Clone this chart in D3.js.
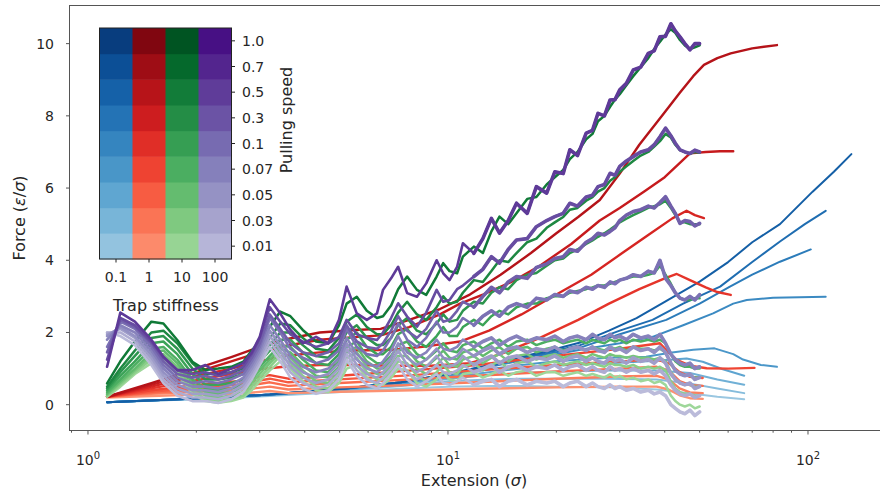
<!DOCTYPE html>
<html><head><meta charset="utf-8">
<script src="https://cdn.jsdelivr.net/npm/d3@7"></script>
<style>body{margin:0;background:#fff;} svg{display:block;font-family:"DejaVu Sans",sans-serif;}</style>
</head><body><svg id="c" width="880" height="493"></svg>
<script>
// ---------- data ----------
const speeds = ["0.01","0.03","0.05","0.07","0.1","0.3","0.5","0.7","1.0"];
const stiffness = ["0.1","1","10","100"];
const yTicks = [0,2,4,6,8,10];
const xMajor = [1,10,100];
const xMinor = [0.9,2,3,4,5,6,7,8,9,20,30,40,50,60,70,80,90];

// extension grid for the oscillating (stiff trap) runs
const xOsc = [1.13,1.23,1.35,1.5,1.62,1.77,1.95,2.12,2.3,2.5,
 2.7,2.85,3.0,3.2,3.42,3.65,3.95,4.3,4.65,4.98,
 5.23,5.58,5.95,6.35,6.6,6.95,7.27,7.7,8.2,8.7,
 9.3,9.7,10.1,10.6,11.0,11.8,12.5,13.2,13.9,14.7,
 15.5,16.6,17.6,18.8,19.8,20.9,21.8,22.9,24.2,25.2,
 26.1,27.2,28.2,29.1,30,31.3,32.7,34.3,36,37.4,
 38.8,40.2,41.6,42.8,44.1,45.5,47,48.5,50];

// stiffness 0.1 (blue), [extension, force], speeds ascending
const blue = [
 [[1.13,0.07],[2,0.15],[3.2,0.24],[5.2,0.36],[7.4,0.44],[10,0.5],[13,0.52],[16,0.52],[20,0.5],[28,0.48],[38,0.42],[48,0.3],[56,0.22],[66.5,0.15]],
 [[1.13,0.07],[2,0.16],[3.2,0.26],[5.2,0.4],[7.4,0.52],[10,0.65],[13,0.7],[16,0.72],[20,0.72],[28,0.72],[38,0.7],[48,0.57],[56,0.45],[66.5,0.32]],
 [[1.13,0.07],[2,0.17],[3.2,0.27],[5.2,0.42],[7.4,0.56],[10,0.72],[13,0.82],[16,0.88],[20,0.92],[28,0.95],[38,0.95],[47,0.88],[56,0.7],[66.5,0.55]],
 [[1.13,0.07],[2,0.17],[3.2,0.27],[5.2,0.43],[7.4,0.58],[10,0.76],[13,0.9],[16,1.0],[20,1.08],[28,1.15],[38,1.22],[46,1.28],[51,1.19],[58,0.98],[66.5,0.8]],
 [[1.13,0.07],[2,0.17],[3.2,0.28],[5.2,0.44],[7.4,0.6],[10,0.8],[13,0.98],[16,1.1],[20,1.2],[28,1.3],[35.5,1.33],[41.4,1.44],[48,1.52],[55,1.56],[62,1.4],[66,1.25],[74,1.1],[82,1.05]],
 [[1.13,0.07],[2,0.17],[3.2,0.28],[5.2,0.45],[7.4,0.62],[10,0.83],[13,1.04],[16,1.23],[20,1.4],[23.3,1.52],[30,1.7],[37,1.88],[45,2.2],[54.5,2.53],[62,2.8],[67.6,2.9],[80,2.96],[112,2.99]],
 [[1.13,0.07],[2,0.17],[3.2,0.28],[5.2,0.45],[7.4,0.62],[10,0.84],[13,1.06],[16,1.27],[20,1.45],[23.3,1.58],[30,1.95],[40.4,2.35],[50,2.8],[60.7,3.27],[70,3.6],[83.6,3.96],[101.8,4.3]],
 [[1.13,0.07],[2,0.17],[3.2,0.28],[5.2,0.45],[7.4,0.62],[10,0.85],[13,1.08],[16,1.3],[20,1.5],[23.3,1.65],[30,2.05],[37,2.35],[45,2.8],[57,3.27],[70,3.95],[83.6,4.52],[98,5.0],[112,5.37]],
 [[1.13,0.07],[2,0.17],[3.2,0.28],[5.2,0.45],[7.4,0.62],[10,0.85],[13,1.1],[16,1.33],[20,1.55],[23.3,1.72],[28,2.05],[33.4,2.4],[40,2.85],[50,3.41],[60,3.95],[70,4.5],[83.6,5.0],[103,5.9],[118,6.45],[132,6.94]]
];

// stiffness 1 (red), [extension, force], speeds ascending
const red = [
 [[1.13,0.2],[1.5,0.24],[2,0.28],[2.6,0.3],[3.2,0.38],[3.6,0.32],[5,0.36],[8,0.4],[12,0.44],[20,0.48],[30,0.5],[38,0.5],[41,0.42],[44,0.26],[47,0.18],[51,0.16]],
 [[1.13,0.22],[1.5,0.3],[2,0.36],[2.6,0.4],[3.2,0.5],[3.6,0.42],[5,0.48],[8,0.55],[12,0.62],[20,0.72],[30,0.78],[38,0.8],[41,0.7],[44,0.45],[47,0.34],[51,0.32]],
 [[1.13,0.22],[1.5,0.33],[2,0.42],[2.6,0.48],[3.2,0.62],[3.6,0.52],[5,0.6],[8,0.7],[12,0.8],[20,0.92],[30,1.0],[38,1.05],[41,0.95],[44,0.65],[47,0.54],[51,0.52]],
 [[1.13,0.22],[1.5,0.36],[2,0.48],[2.6,0.56],[3.2,0.72],[3.6,0.62],[5,0.7],[8,0.82],[12,0.95],[20,1.1],[30,1.2],[38,1.25],[41,1.15],[44,0.9],[47,0.77],[51,0.74]],
 [[1.13,0.22],[1.5,0.4],[2,0.55],[2.6,0.65],[3.2,0.82],[3.6,0.72],[5,0.8],[8,0.95],[12,1.1],[16,1.25],[22,1.4],[30,1.55],[38.8,1.7],[40.8,1.47],[43.2,1.24],[47,1.08],[52.3,1.01],[60,1.0],[71,1.02]],
 [[1.13,0.22],[1.5,0.45],[2,0.68],[2.5,0.85],[3,0.98],[3.5,1.05],[4.4,1.1],[5.5,1.1],[7,1.08],[9,1.08],[11.5,1.15],[14,1.4],[18,1.85],[23,2.35],[28,2.8],[34,3.2],[40,3.5],[43.2,3.62],[47,3.45],[52,3.25],[56,3.12],[61,3.04]],
 [[1.13,0.22],[1.5,0.5],[2,0.8],[2.5,1.0],[3,1.2],[3.5,1.35],[4.4,1.45],[5.5,1.5],[7,1.52],[8.5,1.6],[10.8,1.75],[13,2.05],[16,2.5],[20,3.05],[25,3.6],[30,4.15],[36,4.7],[42,5.16],[46,5.37],[48.5,5.25],[51.4,5.17]],
 [[1.13,0.22],[1.5,0.55],[2,0.9],[2.5,1.2],[3,1.45],[3.5,1.62],[4.4,1.8],[5.5,1.87],[6.5,1.92],[7.8,2.15],[9.5,2.5],[10.8,2.8],[12.5,3.05],[15,3.4],[18,3.85],[22,4.45],[26.4,5.1],[30,5.45],[35,5.9],[40,6.3],[44,6.69],[47,6.96],[52,7.0],[57,7.02],[62,7.02]],
 [[1.13,0.22],[1.5,0.6],[2,1.0],[2.5,1.32],[3,1.6],[3.5,1.8],[4.4,2.0],[5.5,2.07],[6.5,2.1],[7.8,2.35],[9.5,2.65],[11.5,3.05],[14,3.6],[17,4.2],[20,4.75],[23,5.2],[26.4,5.67],[30,6.4],[34,7.2],[40,8.1],[44,8.63],[48,9.1],[51.4,9.41],[56,9.6],[61,9.73],[70,9.87],[82,9.96]]
];

// stiffness 10 (green), force on xOsc, speeds ascending
const green = [
 [0.22,0.5,0.85,1.15,1.2,0.85,0.3,0.1,0.05,0.1, 0.2,0.4,0.65,0.95,1.2,1.0,0.65,0.4,0.35,0.6, 1.0,1.1,0.75,0.55,0.55,0.75,1.0,0.95,0.6,0.5, 0.7,0.9,0.7,0.65,0.85,0.9,0.75,0.85,0.95,0.8, 0.9,0.95,0.8,0.9,0.9,0.8,0.85,0.9,0.8,0.85, 0.8,0.75,0.85,0.75,0.8,0.7,0.75,0.65,0.7,0.6, 0.65,0.55,0.25,0.1,0.0,-0.05,0.0,-0.1,-0.05],
 [0.25,0.55,0.9,1.25,1.3,0.95,0.4,0.15,0.1,0.15, 0.25,0.5,0.75,1.05,1.35,1.15,0.8,0.5,0.45,0.75, 1.15,1.3,0.9,0.7,0.7,0.9,1.2,1.15,0.8,0.65, 0.9,1.1,0.9,0.85,1.05,1.15,0.95,1.1,1.2,1.0, 1.15,1.2,1.05,1.15,1.2,1.1,1.15,1.2,1.1,1.15, 1.1,1.05,1.15,1.1,1.1,1.05,1.1,1.0,1.05,1.0, 1.05,0.95,0.65,0.45,0.35,0.3,0.3,0.25,0.25],
 [0.28,0.6,0.95,1.35,1.4,1.05,0.5,0.25,0.2,0.25, 0.35,0.6,0.85,1.15,1.45,1.3,0.95,0.65,0.6,0.9, 1.3,1.45,1.05,0.85,0.85,1.05,1.35,1.35,1.0,0.85, 1.1,1.3,1.1,1.05,1.25,1.35,1.15,1.3,1.4,1.2, 1.35,1.4,1.25,1.35,1.4,1.3,1.35,1.4,1.3,1.4, 1.35,1.3,1.4,1.35,1.35,1.3,1.35,1.3,1.3,1.25, 1.3,1.2,0.9,0.7,0.6,0.55,0.55,0.5,0.5],
 [0.3,0.65,1.0,1.45,1.5,1.15,0.6,0.35,0.3,0.35, 0.45,0.7,0.95,1.25,1.55,1.45,1.1,0.8,0.75,1.05, 1.45,1.6,1.2,1.0,1.0,1.2,1.5,1.55,1.2,1.05, 1.3,1.5,1.3,1.25,1.45,1.55,1.35,1.5,1.6,1.4, 1.55,1.6,1.45,1.55,1.6,1.5,1.55,1.6,1.5,1.6, 1.55,1.5,1.6,1.55,1.6,1.5,1.6,1.55,1.55,1.5, 1.55,1.45,1.15,0.95,0.85,0.8,0.8,0.75,0.75],
 [0.35,0.7,1.1,1.55,1.6,1.25,0.7,0.45,0.4,0.45, 0.55,0.8,1.05,1.35,1.65,1.6,1.25,0.95,0.9,1.2, 1.6,1.75,1.35,1.15,1.15,1.35,1.65,1.75,1.4,1.25, 1.5,1.7,1.5,1.45,1.65,1.75,1.55,1.7,1.8,1.6, 1.75,1.8,1.65,1.75,1.8,1.7,1.75,1.8,1.7,1.8, 1.75,1.7,1.8,1.75,1.8,1.7,1.8,1.75,1.8,1.75, 1.8,1.7,1.4,1.2,1.1,1.05,1.05,1.0,1.0],
 [0.4,0.8,1.2,1.7,1.75,1.4,0.85,0.55,0.55,0.6, 0.7,0.95,1.2,1.5,1.8,1.8,1.45,1.15,1.1,1.4, 1.8,2.0,1.6,1.4,1.4,1.6,1.95,2.1,1.75,1.6, 1.9,2.15,1.9,1.9,2.15,2.35,2.2,2.45,2.6,2.5, 2.7,2.8,2.8,2.95,3.0,3.0,3.1,3.15,3.2,3.25, 3.3,3.3,3.35,3.4,3.45,3.5,3.55,3.55,3.6,3.65, 3.85,3.6,3.35,3.1,2.95,2.9,2.9,2.95,2.95],
 [0.45,0.9,1.35,1.85,1.9,1.55,1.0,0.7,0.7,0.75, 0.85,1.1,1.35,1.65,2.0,2.0,1.65,1.35,1.3,1.6, 2.0,2.2,1.85,1.65,1.65,1.85,2.2,2.4,2.05,1.95, 2.25,2.5,2.3,2.35,2.6,2.85,2.8,3.1,3.25,3.2, 3.45,3.6,3.65,3.85,4.0,4.05,4.2,4.3,4.45,4.55, 4.65,4.75,4.85,4.95,5.05,5.15,5.25,5.35,5.45,5.5, 5.55,5.65,5.45,5.25,5.05,5.05,5.0,5.0,5.0],
 [0.5,1.0,1.5,2.0,2.05,1.7,1.15,0.85,0.85,0.9, 1.0,1.25,1.5,1.85,2.25,2.2,1.85,1.55,1.5,1.85, 2.3,2.5,2.15,1.95,1.95,2.2,2.55,2.85,2.5,2.35, 2.7,3.0,2.8,2.85,3.1,3.45,3.4,3.7,4.0,3.95, 4.2,4.5,4.6,4.9,5.05,5.2,5.4,5.45,5.65,5.75, 5.9,6.0,6.2,6.3,6.45,6.6,6.75,6.9,7.0,7.15, 7.3,7.5,7.4,7.2,7.05,7.0,6.95,7.0,6.98],
 [0.59,1.2,1.75,2.3,2.25,1.79,1.19,0.96,1.0,1.05, 1.19,1.5,1.75,2.16,2.58,2.45,2.07,1.75,1.7,2.2, 2.8,2.99,2.6,2.4,2.45,2.75,3.2,3.55,3.18,3.04, 3.55,3.92,3.7,3.64,4.1,4.38,4.2,4.8,5.21,5.0, 5.3,5.7,5.75,6.1,6.3,6.5,6.8,7.0,7.35,7.5, 7.85,8.0,8.25,8.45,8.6,8.85,9.1,9.35,9.6,9.85, 10.05,10.25,10.4,10.3,10.1,9.95,9.85,9.9,9.95]
];

// stiffness 100 (purple), force on xOsc, speeds ascending
const purple = [
 [2.0,1.9,1.65,1.1,0.6,0.25,0.1,0.1,0.05,0.15, 0.35,0.7,1.1,1.6,1.2,0.75,0.45,0.3,0.4,0.7, 1.25,0.8,0.55,0.45,0.6,0.85,1.1,0.7,0.5,0.65, 0.85,0.6,0.55,0.65,0.75,0.55,0.65,0.7,0.5,0.65, 0.7,0.55,0.65,0.6,0.65,0.5,0.6,0.65,0.5,0.6, 0.5,0.45,0.55,0.45,0.5,0.4,0.45,0.35,0.4,0.3, 0.35,0.25,0.0,-0.1,-0.2,-0.25,-0.15,-0.3,-0.2],
 [2.0,2.0,1.75,1.2,0.7,0.35,0.2,0.2,0.15,0.25, 0.45,0.8,1.2,1.75,1.35,0.9,0.6,0.45,0.55,0.85, 1.4,0.95,0.7,0.6,0.75,1.0,1.3,0.9,0.7,0.85, 1.1,0.9,0.85,0.95,1.1,0.9,1.0,1.1,0.9,1.05, 1.1,0.95,1.05,1.0,1.1,0.95,1.05,1.1,0.95,1.05, 0.95,0.9,1.05,0.95,1.0,0.9,1.0,0.9,0.95,0.85, 0.95,0.8,0.55,0.4,0.3,0.25,0.3,0.2,0.25],
 [1.95,2.1,1.85,1.3,0.8,0.45,0.3,0.3,0.25,0.35, 0.55,0.9,1.3,1.9,1.5,1.05,0.75,0.6,0.7,1.0, 1.55,1.1,0.85,0.75,0.9,1.15,1.5,1.1,0.9,1.05, 1.35,1.1,1.05,1.15,1.35,1.1,1.25,1.35,1.15,1.3, 1.35,1.2,1.3,1.25,1.35,1.2,1.3,1.35,1.2,1.3, 1.2,1.15,1.3,1.2,1.25,1.15,1.3,1.2,1.25,1.15, 1.3,1.15,0.85,0.7,0.6,0.55,0.6,0.45,0.5],
 [1.9,2.15,1.9,1.4,0.9,0.55,0.4,0.4,0.35,0.45, 0.65,1.0,1.4,2.05,1.65,1.2,0.9,0.75,0.85,1.15, 1.7,1.25,1.0,0.9,1.05,1.3,1.7,1.3,1.1,1.25, 1.55,1.3,1.25,1.35,1.55,1.35,1.5,1.6,1.4,1.55, 1.6,1.45,1.55,1.5,1.6,1.45,1.55,1.6,1.5,1.6, 1.5,1.45,1.6,1.5,1.55,1.45,1.6,1.5,1.55,1.45, 1.6,1.45,1.15,0.95,0.85,0.8,0.85,0.7,0.75],
 [1.8,2.2,2.0,1.5,1.0,0.65,0.5,0.5,0.45,0.55, 0.75,1.1,1.5,2.2,1.8,1.35,1.05,0.9,1.0,1.3, 1.85,1.4,1.15,1.05,1.2,1.5,1.9,1.45,1.3,1.45, 1.8,1.55,1.5,1.6,1.8,1.6,1.75,1.85,1.65,1.8, 1.9,1.75,1.85,1.8,1.9,1.75,1.85,1.9,1.8,1.95, 1.85,1.8,1.95,1.85,1.9,1.8,1.95,1.85,1.9,1.8, 1.95,1.7,1.4,1.25,1.15,1.1,1.15,1.0,1.05],
 [1.6,2.3,2.1,1.6,1.1,0.75,0.6,0.65,0.6,0.7, 0.85,1.2,1.6,2.4,2.0,1.55,1.3,1.15,1.25,1.5, 2.1,1.6,1.4,1.35,1.5,1.85,2.25,1.8,1.6,1.85, 2.3,2.0,2.0,2.15,2.4,2.2,2.45,2.6,2.45,2.7, 2.8,2.7,2.95,2.9,3.05,3.0,3.15,3.1,3.25,3.2, 3.3,3.25,3.4,3.35,3.45,3.5,3.6,3.55,3.7,3.65, 4.0,3.5,3.3,3.1,2.95,2.9,3.0,2.9,3.05],
 [1.45,2.35,2.15,1.7,1.2,0.85,0.75,0.8,0.7,0.8, 0.95,1.3,1.7,2.5,2.1,1.7,1.45,1.35,1.45,1.7, 2.2,1.75,1.6,1.55,1.7,2.05,2.45,2.05,1.85,2.1, 2.6,2.3,2.35,2.6,2.85,2.7,3.0,3.25,3.1,3.4, 3.55,3.5,3.8,3.9,4.05,4.1,4.3,4.25,4.5,4.6, 4.75,4.7,4.8,4.9,5.1,5.25,5.35,5.4,5.5,5.45, 5.6,5.76,5.5,5.3,5.02,5.1,5.07,4.95,5.02],
 [1.25,2.4,2.2,1.75,1.3,0.95,0.85,0.9,0.8,0.9, 1.05,1.4,1.85,2.7,2.3,1.95,1.75,1.6,1.7,1.88, 2.35,1.95,1.85,1.79,2.0,2.4,2.81,2.44,2.16,2.55, 3.18,2.85,2.9,3.2,3.3,3.55,3.75,4.1,3.92,4.3, 4.56,4.6,4.93,5.1,5.21,5.3,5.58,5.5,5.75,5.8, 6.04,6.1,6.41,6.35,6.6,6.75,6.87,7.0,7.06,7.2, 7.42,7.66,7.45,7.24,7.06,7.0,6.96,7.05,7.0],
 [1.05,2.55,2.3,1.8,1.33,0.96,0.96,1.1,0.85,1.0, 1.15,1.45,1.88,2.92,2.53,2.07,1.7,1.88,1.7,2.35, 3.27,2.53,2.35,2.53,3.18,3.5,3.82,3.09,2.99,3.36, 4.0,3.64,3.45,3.82,4.47,4.19,4.6,5.16,4.75,5.1, 5.58,5.3,6.04,5.86,6.45,6.4,7.06,6.9,7.52,7.6, 8.07,8.0,8.44,8.45,8.72,8.9,9.27,9.35,9.73,9.8, 10.19,10.2,10.55,10.35,10.19,10.0,9.83,10.0,10.0]
];

// ---------- drawing ----------
const svg = d3.select("#c");
const ink = "#262626";
const x = d3.scaleLog().domain([0.8857, 158.5]).range([69, 880]);
const y = d3.scaleLinear().domain([-0.701, 11.07]).range([430, 5]);

svg.append("clipPath").attr("id","clip").append("rect")
  .attr("x",69).attr("y",5).attr("width",811).attr("height",425);
const plot = svg.append("g").attr("clip-path","url(#clip)");

const line = d3.line().x(d=>x(d[0])).y(d=>y(d[1]));
const schemes = [d3.interpolateBlues, d3.interpolateReds, d3.interpolateGreens, d3.interpolatePurples];
const lineShade = i => 0.38 + 0.44*i/(speeds.length-1);
const legShade = i => 0.4 + 0.55*i/(speeds.length-1);
const widths = [2, 2.4, 2.5, 2.6];
const toPairs = arr => arr.map(s => s.map((v,k)=>[xOsc[k], v]));
const groups = [blue, red, toPairs(green), toPairs(purple)];

groups.forEach((grp, j) => {
  grp.forEach((series, i) => {
    const col = schemes[j](lineShade(i));
    plot.append("path").datum(series)
      .attr("d", line).attr("fill","none")
      .attr("stroke", col).attr("stroke-width", widths[j])
      .attr("stroke-linejoin","round").attr("stroke-linecap","round");
    if (j === 3) { // noisy stiff-trap runs look thicker at large extension
      plot.append("path").datum(series.filter(d => d[0] >= 11.8))
        .attr("d", line).attr("fill","none")
        .attr("stroke", col).attr("stroke-width", 3.6)
        .attr("stroke-linejoin","round").attr("stroke-linecap","round");
    }
  });
});

// spines
const spine = "#555";
svg.append("line").attr("x1",69.5).attr("x2",69.5).attr("y1",5).attr("y2",430).attr("stroke",spine);
svg.append("line").attr("x1",69).attr("x2",880).attr("y1",5.5).attr("y2",5.5).attr("stroke",spine);
svg.append("line").attr("x1",69).attr("x2",880).attr("y1",430.5).attr("y2",430.5).attr("stroke",spine);

// y axis
const yAx = svg.append("g").attr("font-size",14).attr("fill",ink);
yTicks.forEach(t => {
  yAx.append("line").attr("x1",66).attr("x2",69.5).attr("y1",y(t)).attr("y2",y(t)).attr("stroke",spine);
  yAx.append("text").attr("x",54).attr("y",y(t)).attr("dy","0.35em").attr("text-anchor","end").text(t);
});
// x axis
const xAx = svg.append("g").attr("font-size",14).attr("fill",ink);
xMajor.forEach(t => {
  xAx.append("line").attr("x1",x(t)).attr("x2",x(t)).attr("y1",430.5).attr("y2",434.5).attr("stroke",spine);
  const tx = xAx.append("text").attr("x",x(t)).attr("y",465).attr("text-anchor","middle");
  tx.append("tspan").text("10");
  tx.append("tspan").attr("dy",-6).attr("font-size",10).text(Math.round(Math.log10(t)));
});
xMinor.forEach(t => {
  xAx.append("line").attr("x1",x(t)).attr("x2",x(t)).attr("y1",430.5).attr("y2",432.7).attr("stroke",spine);
});

// axis labels
const xl = svg.append("text").attr("x",474).attr("y",486).attr("text-anchor","middle")
  .attr("font-size",16).attr("fill",ink);
xl.append("tspan").text("Extension (");
xl.append("tspan").attr("font-style","italic").text("σ");
xl.append("tspan").text(")");
const yl = svg.append("text").attr("transform","translate(25,218) rotate(-90)")
  .attr("text-anchor","middle").attr("font-size",16).attr("fill",ink);
yl.append("tspan").text("Force (");
yl.append("tspan").attr("font-style","italic").text("ε");
yl.append("tspan").text("/");
yl.append("tspan").attr("font-style","italic").text("σ");
yl.append("tspan").text(")");

// ---------- inset legend ----------
const colX = d3.scaleBand().domain(stiffness).range([99.5, 231.5]);
const rowY = d3.scaleBand().domain(speeds.slice().reverse()).range([28, 259]);
const leg = svg.append("g");
stiffness.forEach((k, j) => {
  speeds.forEach((s, i) => {
    leg.append("rect").attr("x",colX(k)).attr("y",rowY(s))
      .attr("width",colX.bandwidth()+0.5).attr("height",rowY.bandwidth()+0.5)
      .attr("fill", schemes[j](legShade(i)));
  });
});
leg.append("rect").attr("x",99.5).attr("y",28).attr("width",132).attr("height",231)
  .attr("fill","none").attr("stroke","#222").attr("stroke-width",1);
stiffness.forEach(k => {
  const cx = colX(k) + colX.bandwidth()/2;
  leg.append("line").attr("x1",cx).attr("x2",cx).attr("y1",259).attr("y2",262.5).attr("stroke","#222");
  leg.append("text").attr("x",cx).attr("y",282).attr("text-anchor","middle")
    .attr("font-size",14).attr("fill",ink).text(k);
});
speeds.forEach(s => {
  const cy = rowY(s) + rowY.bandwidth()/2;
  leg.append("line").attr("x1",231.5).attr("x2",235).attr("y1",cy).attr("y2",cy).attr("stroke","#222");
  leg.append("text").attr("x",242).attr("y",cy).attr("dy","0.36em")
    .attr("font-size",14).attr("fill",ink).text(s);
});
leg.append("text").attr("x",166).attr("y",311).attr("text-anchor","middle")
  .attr("font-size",16).attr("fill",ink).text("Trap stiffness");
leg.append("text").attr("transform","translate(292,120) rotate(-90)").attr("text-anchor","middle")
  .attr("font-size",16).attr("fill",ink).text("Pulling speed");
</script></body></html>
